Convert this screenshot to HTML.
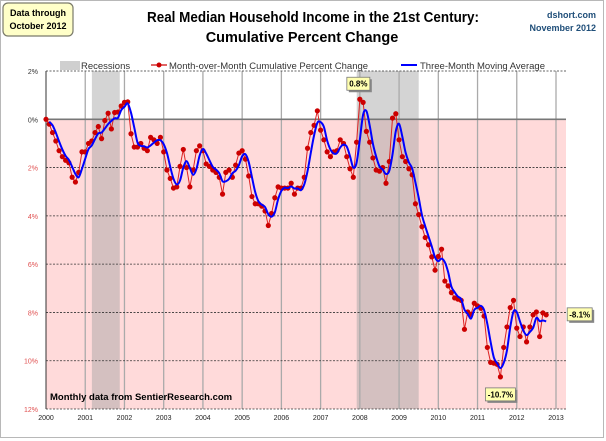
<!DOCTYPE html>
<html><head><meta charset="utf-8">
<style>
body{margin:0;background:#fff;font-family:"Liberation Sans",sans-serif;}
#wrap{position:relative;width:606px;height:441px;overflow:hidden;}
svg text{font-family:"Liberation Sans",sans-serif;}
</style></head>
<body>
<div id="wrap">
<svg id="chart" width="606" height="441">
  <rect x="0.5" y="0.5" width="603" height="437" fill="#fff" stroke="#b8b8b8"/>
  <g>
    <rect x="3" y="3" width="70" height="33" rx="5" fill="#ffffc8" stroke="#7a7a6a" stroke-width="1.2"/>
    <text x="38" y="16" font-size="9" font-weight="bold" text-anchor="middle">Data through</text>
    <text x="38" y="29" font-size="9" font-weight="bold" text-anchor="middle">October 2012</text>
  </g>
  <text x="313" y="22" font-size="15" font-weight="bold" text-anchor="middle" textLength="332" lengthAdjust="spacingAndGlyphs">Real Median Household Income in the 21st Century:</text>
  <text x="302" y="42" font-size="14.5" font-weight="bold" text-anchor="middle">Cumulative Percent Change</text>
  <text x="596" y="18" font-size="9" font-weight="bold" fill="#1f4e79" text-anchor="end">dshort.com</text>
  <text x="596" y="31" font-size="9" font-weight="bold" fill="#1f4e79" text-anchor="end">November 2012</text>
  <g>
    <g>
      <rect x="60" y="61" width="20" height="9" fill="#cfcfcf"/>
      <text x="81" y="69" font-size="9.5" fill="#333">Recessions</text>
    </g>
    <g>
      <line x1="151" y1="65" x2="167" y2="65" stroke="#c00" stroke-width="1.2"/>
      <circle cx="159" cy="65" r="2.5" fill="#c00"/>
      <text x="169" y="69" font-size="9.5" fill="#333">Month-over-Month Cumulative Percent Change</text>
    </g>
    <g>
      <line x1="401" y1="65" x2="417" y2="65" stroke="#00f" stroke-width="2"/>
      <text x="420" y="69" font-size="9.5" fill="#333">Three-Month Moving Average</text>
    </g>
  </g>
  <g id="plot"></g>
  <text x="50" y="400" font-size="9.5" font-weight="bold">Monthly data from SentierResearch.com</text>
</svg>
</div>
<script>
const yearLabels = ["2000","2001","2002","2003","2004","2005","2006","2007","2008","2009","2010","2011","2012","2013"];
const yTickValues = [2,0,-2,-4,-6,-8,-10,-12];
const yTickLabels = ["2%","0%","2%","4%","6%","8%","10%","12%"];
const recessionStarts = [2001.17, 2007.92];
const recessionEnds = [2001.88, 2009.5];
const monthlyChange = [
0,-0.2,-0.55,-0.9,-1.3,-1.55,-1.7,-1.8,-2.4,-2.6,-2.2,-1.35,
-1.35,-1.0,-0.9,-0.55,-0.3,-0.8,-0.05,0.25,-0.4,0.28,0.3,0.55,0.7,0.72,
-0.6,-1.15,-1.15,-1.0,-1.2,-1.3,-0.75,-0.85,-1.0,-0.75,-1.35,-2.1,-2.45,-2.85,-2.8,-1.95,-1.25,-2.0,-2.8,-2.1,-1.3,-1.1,-1.3,-1.85,-1.95,-2.1,-2.2,-2.4,-3.1,-2.2,-2.1,-2.4,-1.9,-1.4,
-1.3,-1.65,-2.35,-3.2,-3.5,-3.5,-3.6,-3.8,-4.4,-3.9,
-3.25,-2.8,-2.85,-2.85,-2.85,-2.65,-3.1,-2.85,-2.85,-2.4,
-1.2,-0.55,-0.25,0.35,-0.45,-0.85,-1.35,-1.55,-1.35,-1.3,
-0.85,-1.0,-1.55,-2.05,-2.4,-0.95,0.83,0.7,-0.5,-0.95,
-1.6,-2.1,-2.15,-2.0,-2.65,-1.75,0.05,0.23,-0.85,-1.55,
-1.75,-2.05,-2.3,-3.5,-3.95,-4.45,-4.9,-5.2,
-5.7,-6.25,-5.68,-5.38,-6.7,-6.9,-7.18,-7.4,-7.45,-7.5,
-8.7,-7.98,-8.08,-7.62,-7.73,-7.83,-8.15,-9.45,-10.07,-10.1,
-10.15,-10.67,-9.45,-8.6,-7.8,-7.5,-8.65,-9.0,-8.6,-9.22,
-8.6,-8.1,-7.98,-9.0,-8.02,-8.1
];
const calloutLabels = ["0.8%","-10.7%","-8.1%"];

const X0=46, X1=556, PR=566, YT=71, YB=409;
const xScale = t => X0 + (t-2000)*(X1-X0)/13;
const yScale = v => YT + (2-v)*(YB-YT)/14;
const NS="http://www.w3.org/2000/svg";
const plot=document.getElementById('plot');
function mk(tag,attrs,parent){const e=document.createElementNS(NS,tag);for(const k in attrs)e.setAttribute(k,attrs[k]);(parent||plot).appendChild(e);return e;}

const bgTop=mk('rect',{x:X0,y:YT,width:PR-X0,height:yScale(0)-YT,fill:'#ffffff'});


const bgBot=mk('rect',{x:X0,y:yScale(0),width:PR-X0,height:YB-yScale(0),fill:'#ffdada'});



for(let i=0;i<recessionStarts.length;i++){
  const r=mk('rect',{x:xScale(recessionStarts[i]),y:YT,width:xScale(recessionEnds[i])-xScale(recessionStarts[i]),height:YB-YT,fill:'#a0a0a0','fill-opacity':0.45});
  
  
}
yearLabels.forEach((lab,i)=>{
  const x=xScale(2000+i);
  if(i>0){const g=mk('line',{x1:x,y1:YT,x2:x,y2:YB,stroke:'#aaa','stroke-width':1.3});
  
  }
  const t=mk('text',{x:x,y:YB+11,'font-size':7,'text-anchor':'middle',fill:'#222'});
  t.textContent=lab;
  
  
});
yTickValues.forEach((v,i)=>{
  const y=yScale(v);
  const zero=v===0;
  const l=mk('line',{x1:X0,y1:y,x2:PR,y2:y,stroke:zero?'#777':'#333','stroke-width':zero?1.6:0.8,'stroke-dasharray':zero?'':'2,1.5'});
  
  
  const t=mk('text',{x:X0-8,y:y+3,'font-size':7,'text-anchor':'end',fill:v<0?'#e05050':'#333'});
  t.textContent=yTickLabels[i];
  
  
});
const axL=mk('line',{x1:X0,y1:YT,x2:X0,y2:YB,stroke:'#333','stroke-width':1});



const tOf=i=>2000+i/12;
const pts=monthlyChange.map((v,i)=>[xScale(tOf(i)),yScale(v)]);
const red=mk('polyline',{points:pts.map(p=>p.join(',')).join(' '),fill:'none',stroke:'#d22','stroke-width':1});


pts.forEach(p=>{
  const c=mk('circle',{cx:p[0],cy:p[1],r:2.6,fill:'#c00'});
  
  
});
const ma=monthlyChange.map((v,i)=>{const s=monthlyChange.slice(Math.max(0,i-2),i+1);return s.reduce((a,b)=>a+b,0)/s.length;});
const mp=ma.slice(1).map((v,i)=>[xScale(tOf(i+1)),yScale(v)]);
let d='M'+mp[0].join(',');
for(let i=0;i<mp.length-1;i++){
  const p0=mp[Math.max(0,i-1)],p1=mp[i],p2=mp[i+1],p3=mp[Math.min(mp.length-1,i+2)];
  const c1=[p1[0]+(p2[0]-p0[0])/6,p1[1]+(p2[1]-p0[1])/6],c2=[p2[0]-(p3[0]-p1[0])/6,p2[1]-(p3[1]-p1[1])/6];
  d+=` C${c1.join(',')} ${c2.join(',')} ${p2.join(',')}`;
}
const blue=mk('path',{d:d,fill:'none',stroke:'#00f','stroke-width':2});



function callout(i,txt,dx,dy,w){
  const x=xScale(tOf(i))+dx, y=yScale(monthlyChange[i])+dy;
  const g=mk('g',{});
  
  
  mk('rect',{x:x+2,y:y+2,width:w,height:13,fill:'#888'},g);
  mk('rect',{x:x,y:y,width:w,height:13,fill:'#ffffb0',stroke:'#777','stroke-width':0.8},g);
  const t=mk('text',{x:x+w/2,y:y+9.5,'font-size':8,'font-weight':'bold','text-anchor':'middle'},g);
  t.textContent=txt;
}
let maxI=0,minI=0;monthlyChange.forEach((v,i)=>{if(v>monthlyChange[maxI])maxI=i;if(v<monthlyChange[minI])minI=i;});
callout(maxI,calloutLabels[0],-13,-22,23);
callout(minI,calloutLabels[1],-15,11,30);
callout(monthlyChange.length-1,calloutLabels[2],21,-7,25);
</script>
</body></html>
